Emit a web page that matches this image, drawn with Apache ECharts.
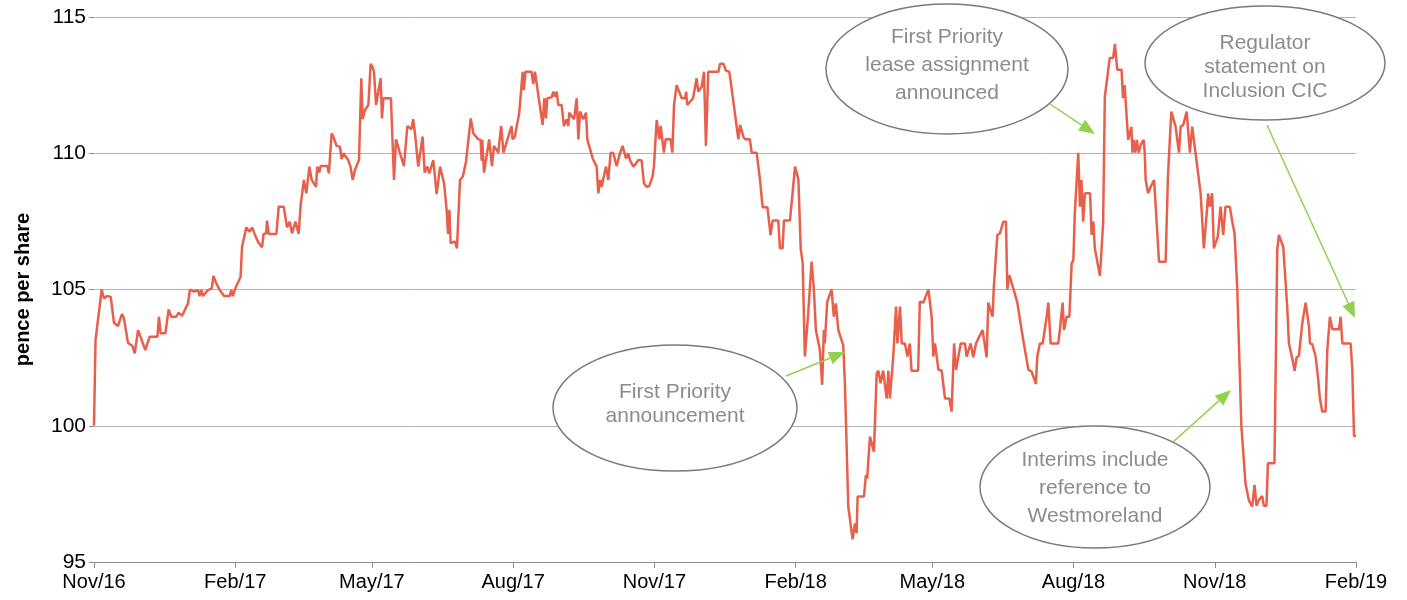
<!DOCTYPE html>
<html>
<head>
<meta charset="utf-8">
<script src="https://cdn.jsdelivr.net/npm/echarts@6/dist/echarts.min.js"></script>
<style>
  html, body { margin: 0; padding: 0; background: #fff; }
  #chart { width: 1407px; height: 600px; }
</style>
</head>
<body>
<div id="chart"></div>
<script>
// days counted from 1 Nov 2016
const tickDays = [0, 92, 181, 273, 365, 457, 546, 638, 730, 822]
const tickLabels = ['Nov/16', 'Feb/17', 'May/17', 'Aug/17', 'Nov/17', 'Feb/18', 'May/18', 'Aug/18', 'Nov/18', 'Feb/19']
const yTicks = [95, 100, 105, 110, 115]

const days = [
  // Nov/16 - Mar/17
  0, 1, 5, 6.5, 8.5, 10.9, 13, 15.6, 18.2, 19.5, 20.4, 22.1, 25, 26.5, 28.7, 33.4, 36.3, 41.3, 42.3, 43.4,
  46.5, 48.6, 50.4, 53.6, 55.1, 57.3, 61.2, 62.5, 65.1, 67.7, 68.8, 69.9, 71, 74.2, 76.7, 77.8, 79.6, 81.7, 84.7, 88.4,
  89.4, 90.5, 92, 95.5, 96.4, 99.2, 101.3, 103, 104.6, 106.8, 109.4, 110.5, 112.2, 112.7, 113.8, 118.8, 120.3, 123.6, 125.7, 127.5,
  129, 131.2, 133.3, 134.6, 136.7, 138.3,
  // Mar/17 - Jul/17
  140.3, 141.8, 144.6, 145.4, 146.7, 147.6, 152, 153, 154.8, 155.9, 158, 160.2, 161.3, 162.4, 165.6, 167.1, 168.5, 170, 172.6, 174.1,
  175, 176.5, 178.7, 180.2, 181.3, 182.4, 183.7, 186.7, 187.6, 188.5, 193.4, 195.4, 196.7, 199.3, 201.9, 204.1, 206.8, 207.9, 209, 211.2,
  214, 215.4, 217.1, 218.4, 221, 223.2, 225.4, 228, 229.7, 230.6, 231.5, 232.3, 235.1, 236.4, 238.4, 240.2, 242.3, 245.4, 247.1, 250.3,
  251.8, 252.5, 252.9, 254, 257.4, 259.2, 260.5, 263.3, 265.2, 266.7,
  // Jul/17 - Dec/17
  270.5, 272, 272.6, 274.1, 277, 279.2, 280, 281, 285, 286.1, 287.2, 288.2, 292.2, 293.3, 294.4, 295.2, 298.1, 299.2, 300.3, 301.4,
  302.4, 304.6, 306.1, 307.9, 308.9, 309.6, 312.7, 314.4, 315.5, 316.6, 318.7, 320.5, 321.3, 322.6, 324.8, 327.4, 328.5, 329.6, 330.6, 333.5,
  335, 336.5, 338.3, 340.4, 342.6, 344.3, 346.5, 348, 349.1, 351.3, 353.1, 354.6, 356.7, 358.2, 359.9, 361.7, 363.8, 364.7, 366.5, 368.2,
  369.1, 371.2, 372.3, 375.6, 376.7, 377.8, 379.5, 382.8, 385, 385.7, 386.4, 390.2, 392.5, 393.6, 395.8, 397.3, 398.6, 400.1, 406.7, 407.7,
  410, 411.6, 413.8, 415.3,
  // Dec/17 - Apr/18
  419.7, 420.8, 423, 424.1, 427.2, 428.4, 431.6, 433.8, 435.5, 438.6, 440.7, 442, 445.7, 446.8, 448.5, 449.4, 453.3, 455, 456.6, 458.8,
  460.3, 461.6, 463, 465.2, 467.4, 468.9, 470.2, 472.8, 474.3, 475.4, 476, 477.6, 480.4, 481.9, 483.2, 484.8, 488, 489.1, 491.3, 494.1,
  495.6, 496.7, 497.4, 501.5, 502.8, 503.6, 505.4, 508, 509.8, 510.9, 512.3, 514, 515.2, 516.3, 517.4, 518.4, 519.5, 520.6, 522.4, 523.3,
  525, 526.1, 528.2, 529.8, 531.4, 532.5, 536.8, 537.9, 540.2, 543.5,
  // May/18 - Sep/18
  545.6, 546.7, 547.8, 550, 552.1, 554.3, 557.1, 558.6, 560.2, 561.5, 564.5, 567.3, 568.4, 571, 572.7, 574.5, 576.6, 578.8, 581.4, 582.5,
  585.3, 586.1, 588.4, 590.1, 592.3, 594, 594.9, 596.2, 598.8, 599.9, 601.4, 604.2, 607.1, 608.6, 610.7, 613.5, 614.4, 616.1, 617.9, 620.5,
  621.6, 623.1, 628.1, 629.1, 630.9, 631.8, 633.5, 635.3, 636.8, 637.9, 638.9, 641.1, 642.2, 643.2, 644.3, 645.4, 648.8, 649.8, 650.9, 651.9,
  655.2, 656.3, 657.3, 658.4, 661.6, 663.8, 665, 666.5, 669.3, 670.2, 671.3, 673.6, 675.7, 676.4,
  // Sep/18 - Feb/19
  677.2, 678.2, 679.3, 680.4, 682.2, 683.7, 684.4, 685, 686.6, 688.3, 690.5, 693.7, 698, 699.5, 701.7, 704.5, 706.7, 707.8, 709.5, 711.7,
  713.8, 715.3, 717.5, 720.8, 722.9, 725.1, 725.7, 726.8, 728.3, 729.4, 732, 733.8, 735.5, 737, 739.8, 741.4, 742.9, 744.7, 747.3, 748.6,
  750, 752.2, 754.4, 755.9, 757.2, 758.7, 760.9, 762, 763.7, 764.6, 768.9, 770.7, 771.8, 774.6, 775.5, 777.2, 778.3, 780.5, 782, 783.3,
  784.8, 787, 789.2, 791.4, 792, 793.5, 795.7, 797.2, 798.5, 800, 802.2, 803.3, 805, 806.6, 810.9, 812, 813.1, 818.5, 819.6, 820.7,
  822
]

const prices = [
  // Nov/16 - Mar/17
  100, 103.15, 105, 104.67, 104.76, 104.73, 103.78, 103.66, 104.1, 103.94, 104, 103.05, 102.93, 102.66, 103.51, 102.78, 103.27, 103.27, 104, 103.39,
  103.39, 104.27, 104, 104, 104.15, 104.03, 104.49, 105, 104.92, 104.98, 104.76, 104.98, 104.76, 104.98, 105.04, 105.5, 105.23, 105, 104.76, 104.76,
  104.98, 104.76, 105.04, 105.47, 106.55, 107.28, 107.12, 107.28, 107.04, 106.75, 106.55, 107.04, 107.06, 107.53, 107.04, 107.04, 108.04, 108.04, 107.28, 107.49,
  107.06, 107.49, 107.04, 108.1, 109.02, 108.53,
  // Mar/17 - Jul/17
  109.51, 109.02, 108.77, 109.51, 109.29, 109.53, 109.53, 109.26, 110.73, 110.61, 110.27, 110.24, 109.78, 110, 109.75, 109.51, 109.02, 109.39, 109.75, 112.75,
  111.25, 111.59, 111.77, 113.28, 113.18, 112.99, 111.77, 112.75, 111.28, 112.02, 112.02, 109.02, 110.51, 110, 109.53, 111, 110.88, 111.25, 110.76, 109.51,
  110.61, 109.29, 109.51, 109.26, 109.75, 108.5, 109.51, 108.9, 107.92, 107.04, 107.92, 106.7, 106.76, 106.51, 109.02, 109.14, 109.69, 111.28, 110.73, 110.51,
  110.49, 109.73, 110.49, 109.29, 110.51, 109.53, 110.27, 110.02, 111, 110.02,
  // Jul/17 - Dec/17
  110.73, 111, 110.51, 110.61, 111.49, 112.99, 112.32, 112.99, 112.99, 112.54, 112.99, 112.99, 111.04, 112.02, 111.28, 112.02, 112.05, 112.26, 112.08, 112.26,
  111.77, 111.77, 111, 111.25, 111, 111.49, 111.25, 112.02, 110.51, 111.53, 111.25, 111.49, 110.51, 110.51, 109.81, 109.51, 108.53, 109.02, 108.77, 109.51,
  109.02, 110.02, 110, 109.53, 110, 110.27, 109.81, 110, 109.75, 109.51, 109.63, 109.75, 109.73, 108.9, 108.77, 108.8, 109.14, 109.51, 111.22, 110.51,
  111, 110.02, 110.51, 110.51, 110.02, 111.77, 112.5, 112.02, 112.02, 112.26, 111.77, 112.02, 112.75, 112.26, 112.44, 112.99, 110.27, 112.99, 112.99, 113.28,
  113.28, 113.03, 112.99, 112.38,
  // Dec/17 - Apr/18
  110.51, 111.04, 110.6, 110.51, 110.51, 110.02, 110.02, 109.02, 108.02, 108.02, 107, 107.53, 107.53, 106.51, 106.51, 107.53, 107.53, 108.53, 109.51, 109.04,
  106.51, 105.96, 102.54, 104.12, 106.02, 105, 103.51, 102.78, 101.5, 103.51, 103.02, 104.55, 105, 104, 104.49, 103.51, 102.96, 101.56, 97.03, 95.83,
  96.42, 96.05, 97.4, 97.4, 98.19, 98.07, 99.6, 99.05, 101.92, 102.02, 101.56, 102.02, 101.98, 101, 102.02, 101, 101, 102.54, 104.37, 103.02,
  104.37, 103.02, 103.02, 102.54, 103.02, 102.02, 102.02, 104.55, 104.52, 105,
  // May/18 - Sep/18
  104, 102.54, 103.02, 102.05, 102.03, 101, 101, 100.52, 103.02, 102.05, 103.02, 103.02, 102.54, 103.02, 102.51, 103.02, 103.27, 103.51, 102.51, 104.52,
  104, 105.1, 107, 107.06, 107.49, 107.49, 105, 105.53, 105.04, 105, 104.52, 103.51, 102.54, 102.05, 101.99, 101.53, 102.54, 103.02, 103.02, 103.98,
  104.52, 103.02, 103.02, 103.51, 104.52, 103.51, 104, 104, 105.96, 106.08, 107.86, 110.02, 108.04, 109.02, 107.49, 108.53, 108.53, 107, 107.49, 106.51,
  105.5, 105.53, 107.43, 112.08, 113.5, 113.5, 114.01, 113.06, 113.06, 112.02, 112.5, 110.49, 110.97, 110.02,
  // Sep/18 - Feb/19
  110.49, 110.02, 110.49, 110.02, 110.36, 110.49, 110.02, 109.02, 108.53, 108.77, 109.02, 106.02, 106.02, 109.14, 111.53, 110.98, 110.02, 110.98, 111.04, 111.53,
  110.02, 110.98, 110, 108.53, 106.51, 108.04, 108.53, 108.04, 108.53, 106.51, 106.94, 108.04, 107, 108.04, 108.04, 107.49, 107.06, 104.98, 100.03, 99.96,
  97.89, 97.27, 97.03, 97.83, 97.06, 97.27, 97.42, 97.06, 97.06, 98.62, 98.62, 106.45, 107, 106.57, 106.51, 104.37, 103.02, 102.47, 102.02, 102.51,
  102.56, 103.76, 104.52, 103.64, 103.02, 103, 102.54, 101.8, 101, 100.52, 100.52, 102.78, 104, 103.54, 103.54, 104, 103.02, 103.02, 102.05, 99.62,
  99.62
]

// callout bubbles: centre, radii, text, arrow from -> to (pixels)
const callouts = [
  { cx: 675, cy: 408, rx: 122, ry: 63, lh: 24, ty: 404, text: 'First Priority\nannouncement', from: [786, 376], to: [845, 352] },
  { cx: 947, cy: 69, rx: 121, ry: 65, lh: 28, ty: 65, text: 'First Priority\nlease assignment\nannounced', from: [1050, 104], to: [1095, 134] },
  { cx: 1265, cy: 63, rx: 120, ry: 57, lh: 24, ty: 67, text: 'Regulator\nstatement on\nInclusion CIC', from: [1267, 125], to: [1355, 318] },
  { cx: 1095, cy: 487, rx: 115, ry: 61, lh: 28, ty: 488, text: 'Interims include\nreference to\nWestmoreland', from: [1173, 442], to: [1231, 390] }
]

const FONT = '"Liberation Sans", Arial, sans-serif'
const chart = echarts.init(document.getElementById('chart'))

function arrowHead(from, to, len, wid) {
  const dx = to[0] - from[0]
  const dy = to[1] - from[1]
  const d = Math.sqrt(dx * dx + dy * dy)
  const ux = dx / d
  const uy = dy / d
  const bx = to[0] - ux * len
  const by = to[1] - uy * len
  return {
    base: [bx, by],
    points: [to, [bx - uy * wid / 2, by + ux * wid / 2], [bx + uy * wid / 2, by - ux * wid / 2]]
  }
}

const graphics = []
callouts.forEach(c => {
  const head = arrowHead(c.from, c.to, 16, 13)
  graphics.push({
    type: 'ellipse', z: 100,
    shape: { cx: c.cx, cy: c.cy, rx: c.rx, ry: c.ry },
    style: { fill: '#fff', stroke: '#7a7a7a', lineWidth: 1.5 }
  })
  graphics.push({
    type: 'text', z: 101, x: c.cx, y: c.ty,
    style: {
      text: c.text, fill: '#8c8c8c', fontSize: 21, fontFamily: FONT,
      align: 'center', verticalAlign: 'middle', lineHeight: c.lh
    }
  })
  graphics.push({
    type: 'line', z: 100,
    shape: { x1: c.from[0], y1: c.from[1], x2: head.base[0], y2: head.base[1] },
    style: { stroke: '#92d050', lineWidth: 1.5 }
  })
  graphics.push({
    type: 'polygon', z: 100,
    shape: { points: head.points },
    style: { fill: '#92d050' }
  })
})

chart.setOption({
  animation: false,
  backgroundColor: '#fff',
  grid: { left: 94, right: 51, top: 17, bottom: 38 },
  xAxis: {
    type: 'value',
    min: 0,
    max: 822,
    axisLine: { lineStyle: { color: '#8c8c8c', width: 1 } },
    axisTick: { show: true, customValues: tickDays, length: 6, lineStyle: { color: '#8c8c8c' } },
    axisLabel: {
      customValues: tickDays,
      formatter: v => tickLabels[tickDays.indexOf(v)],
      color: '#000', fontSize: 20, fontFamily: FONT, margin: 10, hideOverlap: false
    },
    splitLine: { show: false }
  },
  yAxis: {
    type: 'value',
    min: yTicks[0],
    max: yTicks[yTicks.length - 1],
    interval: 5,
    name: 'pence per share',
    nameLocation: 'middle',
    nameGap: 61,
    nameTextStyle: { color: '#000', fontSize: 20, fontWeight: 'bold', fontFamily: FONT },
    axisLine: { show: false },
    axisTick: { show: true, length: 5, lineStyle: { color: '#8c8c8c' } },
    axisLabel: { color: '#000', fontSize: 21, fontFamily: FONT, margin: 8 },
    splitLine: { lineStyle: { color: '#b3b3b3', width: 1 } }
  },
  series: [{
    name: 'price',
    type: 'line',
    data: days.map((d, i) => [d, prices[i]]),
    showSymbol: false,
    lineStyle: { color: '#e8604c', width: 2.5 },
    z: 2
  }],
  graphic: graphics
})
</script>
</body>
</html>
